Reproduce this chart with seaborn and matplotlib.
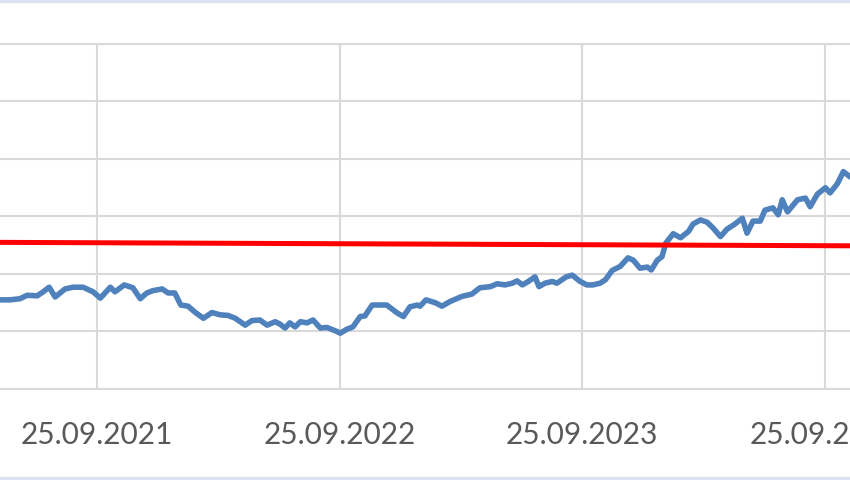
import pandas as pd
import matplotlib.pyplot as plt
from matplotlib.patches import Rectangle
import seaborn as sns

# --- Data ---
dates = [
    '2021-05-02', '2021-05-17', '2021-06-01', '2021-06-12', '2021-06-27', '2021-07-06',
    '2021-07-15', '2021-07-24', '2021-08-08', '2021-08-20', '2021-09-04', '2021-09-19',
    '2021-09-30', '2021-10-15', '2021-10-22', '2021-11-05', '2021-11-18', '2021-11-29',
    '2021-12-09', '2021-12-18', '2022-01-01', '2022-01-10', '2022-01-20', '2022-01-29',
    '2022-02-09', '2022-02-20', '2022-03-04', '2022-03-17', '2022-03-29', '2022-04-10',
    '2022-04-21', '2022-05-06', '2022-05-16', '2022-05-28', '2022-06-08', '2022-06-20',
    '2022-06-27', '2022-07-05', '2022-07-12', '2022-07-20', '2022-07-28', '2022-08-07',
    '2022-08-16', '2022-08-27', '2022-09-06', '2022-09-21', '2022-09-26', '2022-10-06',
    '2022-10-15', '2022-10-26', '2022-11-02', '2022-11-13', '2022-11-25', '2022-12-05',
    '2022-12-21', '2022-12-30', '2023-01-09', '2023-01-20', '2023-01-24', '2023-02-02',
    '2023-02-16', '2023-02-26', '2023-03-10', '2023-03-28', '2023-04-12', '2023-04-24',
    '2023-05-10', '2023-05-20', '2023-06-01', '2023-06-12', '2023-06-19', '2023-06-27',
    '2023-07-06', '2023-07-16', '2023-07-22', '2023-07-31', '2023-08-11', '2023-08-18',
    '2023-09-01', '2023-09-10', '2023-09-22', '2023-10-02', '2023-10-11', '2023-10-22',
    '2023-10-30', '2023-11-09', '2023-11-21', '2023-12-03', '2023-12-11', '2023-12-21',
    '2024-01-01', '2024-01-07', '2024-01-16', '2024-01-23', '2024-01-29', '2024-02-09',
    '2024-02-20', '2024-03-03', '2024-03-10', '2024-03-21', '2024-03-31', '2024-04-09',
    '2024-04-20', '2024-04-30', '2024-05-12', '2024-05-23', '2024-05-30', '2024-06-08',
    '2024-06-19', '2024-06-26', '2024-07-08', '2024-07-16', '2024-07-22', '2024-07-30',
    '2024-08-14', '2024-08-26', '2024-09-02', '2024-09-13', '2024-09-25', '2024-10-02',
    '2024-10-13', '2024-10-22', '2024-11-01',
]
values = [
    55.5, 55.5, 55.7, 56.3, 56.2, 56.9,
    57.7, 56.0, 57.4, 57.7, 57.7, 56.9,
    55.8, 57.7, 56.9, 58.1, 57.6, 55.7,
    56.7, 57.1, 57.4, 56.7, 56.7, 54.6,
    54.4, 53.3, 52.3, 53.3, 52.9, 52.8,
    52.3, 51.1, 51.9, 52.0, 51.1, 51.7,
    51.3, 50.6, 51.5, 50.8, 51.7, 51.5,
    52.0, 50.6, 50.7, 50.0, 49.7, 50.4,
    50.8, 52.6, 52.7, 54.6, 54.6, 54.6,
    53.2, 52.6, 54.3, 54.6, 54.4, 55.5,
    55.0, 54.4, 55.2, 56.1, 56.5, 57.6,
    57.8, 58.3, 58.1, 58.4, 58.8, 58.1,
    58.7, 59.5, 57.8, 58.4, 58.7, 58.4,
    59.5, 59.8, 58.7, 58.1, 58.1, 58.4,
    59.0, 60.6, 61.3, 62.8, 62.4, 61.0,
    61.2, 60.7, 62.4, 63.0, 65.4, 67.0,
    66.3, 67.4, 68.7, 69.4, 69.0, 68.0,
    66.5, 67.8, 68.7, 69.7, 67.1, 69.2,
    69.2, 71.1, 71.5, 70.3, 72.9, 70.8,
    72.9, 73.2, 71.7, 73.9, 75.0, 74.1,
    75.7, 77.8, 76.9,
]

# Red reference line (two end points)
ref_dates = ['2021-05-02', '2024-11-01']
ref_values = [65.5, 64.9]

tick_dates = ['2021-09-25', '2022-09-25', '2023-09-25', '2024-09-25']
tick_labels = ['25.09.2021', '25.09.2022', '25.09.2023', '25.09.2024']
y_grid = [40, 50, 60, 70, 80, 90, 100]

df = pd.DataFrame({'date': pd.to_datetime(dates), 'value': values})
ref = pd.DataFrame({'date': pd.to_datetime(ref_dates), 'value': ref_values})

# --- Style ---
sns.set_style('white')
plt.rcParams['font.family'] = ['Lato', 'DejaVu Sans']

fig = plt.figure(figsize=(8.5, 4.8), dpi=100)
# axes run past the figure edges (chart is a crop)
ax = fig.add_axes([0, 0.1896, 1, 0.7188])

sns.lineplot(data=df, x='date', y='value', color='#4F81BD', linewidth=4.0,
             estimator=None, sort=False, ax=ax, zorder=3,
             solid_joinstyle='round', solid_capstyle='round')
sns.lineplot(data=ref, x='date', y='value', color='#FF0000', linewidth=3.6,
             estimator=None, sort=False, ax=ax, zorder=4)

ax.set_xlim(pd.Timestamp('2021-05-02'), pd.Timestamp('2024-11-01'))
ax.set_ylim(y_grid[0], y_grid[-1])
ax.set_yticks(y_grid)
ax.set_xticks(pd.to_datetime(tick_dates))
ax.set_xticklabels(tick_labels)
ax.set_xlabel('')
ax.set_ylabel('')

# --- Grid ---
ax.grid(True, color='#D9D9D9', linewidth=1.5, zorder=0)
ax.set_axisbelow(True)
for side in ['left', 'right']:
    ax.spines[side].set_visible(False)
for side in ['top', 'bottom']:
    ax.spines[side].set_color('#D9D9D9')
    ax.spines[side].set_linewidth(1.5)

ax.tick_params(axis='x', length=0, pad=23, labelsize=21.5, labelcolor='#595959')
ax.tick_params(axis='y', length=0, labelleft=False)

# --- Light blue frame bands at top and bottom ---
fig.add_artist(Rectangle((0, 0.996), 1, 0.004, transform=fig.transFigure,
                         color='#DAE3F3', zorder=0))
fig.add_artist(Rectangle((0, 0), 1, 0.006, transform=fig.transFigure,
                         color='#DAE3F3', zorder=0))

fig.savefig('out.png', dpi=100)
